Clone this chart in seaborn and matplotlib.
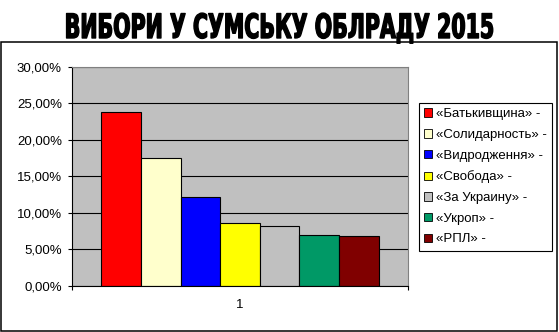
import matplotlib
matplotlib.use("Agg")
import matplotlib.pyplot as plt
import seaborn as sns
import pandas as pd
from matplotlib.patches import Patch, Rectangle
from matplotlib.ticker import FuncFormatter, FixedLocator
from matplotlib import patheffects
from matplotlib.transforms import Affine2D

# ---- data ----
title = "ВИБОРИ У СУМСЬКУ ОБЛРАДУ 2015"
parties = ["Батькивщина", "Солидарность", "Видродження", "Свобода",
           "За Украину", "Укроп", "РПЛ"]
values = [23.85, 17.55, 12.23, 8.55, 8.27, 6.91, 6.82]
colors = ["#FF0000", "#FFFFCC", "#0000FF", "#FFFF00",
          "#C0C0C0", "#009966", "#800000"]
category = ["1"]
yticks = [0, 5, 10, 15, 20, 25, 30]
legend_labels = [f"«{p}» -" for p in parties]

W, H = 559, 332
sns.set_style("white")
plt.rcParams['font.family'] = ['Liberation Sans', 'DejaVu Sans']
plt.rcParams['text.color'] = 'black'
plt.rcParams['xtick.color'] = 'black'
plt.rcParams['ytick.color'] = 'black'

fig = plt.figure(figsize=(W / 100, H / 100), dpi=100)
fig.patch.set_facecolor("white")
ax = fig.add_axes([72 / W, 46 / H, 336 / W, 219.3 / H])

df = pd.DataFrame({"cat": category * len(parties), "party": parties, "value": values})
sns.barplot(data=df, x="cat", y="value", hue="party", hue_order=parties,
            palette=colors, saturation=1, width=0.825, edgecolor="black",
            linewidth=0.8, legend=False, ax=ax, errorbar=None)

ax.set_xlim(-0.5, 0.5)
ax.set_ylim(0, 30)
ax.set_facecolor("#C0C0C0")
ax.yaxis.set_major_locator(FixedLocator(yticks))
ax.yaxis.set_major_formatter(FuncFormatter(lambda v, _: f"{v:.2f}".replace(".", ",") + "%"))
ax.yaxis.grid(True, color="black", linewidth=0.8)
ax.xaxis.grid(False)
ax.set_axisbelow(True)
ax.set_xlabel("")
ax.set_ylabel("")

for s in ["left", "bottom"]:
    ax.spines[s].set_color("black")
    ax.spines[s].set_linewidth(0.8)
for s in ["top", "right"]:
    ax.spines[s].set_color("#808080")
    ax.spines[s].set_linewidth(0.8)

ax.tick_params(axis="y", direction="out", length=3, width=0.8, color="black",
               labelcolor="black", pad=4.3, labelsize=9.5, left=True)
ax.set_xticks([0])
ax.set_xticklabels(["1"])
ax.tick_params(axis="x", which="major", length=0, pad=9.5, labelsize=9.5,
               labelcolor="black")
ax.set_xticks([-0.5, 0.5], minor=True)
ax.tick_params(axis="x", which="minor", direction="out", length=3, width=0.8,
               color="black", bottom=True)

handles = [Patch(facecolor=c, edgecolor="black", linewidth=0.6) for c in colors]
leg = fig.legend(handles, legend_labels, loc="upper left",
                 bbox_to_anchor=(419 / W, 1 - 103 / H), bbox_transform=fig.transFigure,
                 frameon=True, fancybox=False, edgecolor="black", framealpha=1,
                 fontsize=9.5, handlelength=0.6, handleheight=0.6, handletextpad=0.3,
                 labelspacing=0.66, borderpad=0.4, borderaxespad=0)
leg.get_frame().set_linewidth(0.8)
for txt in leg.get_texts():
    txt.set_color("black")

fig.add_artist(Rectangle((1.5 / W, 1.5 / H), 555.5 / W, 289 / H,
                         transform=fig.transFigure, fill=False,
                         edgecolor="black", linewidth=1.1))


class Stretch(patheffects.AbstractPathEffect):
    def __init__(self, sy, y0, lw):
        super().__init__()
        self.sy, self.y0, self.lw = sy, y0, lw

    def draw_path(self, renderer, gc, tpath, affine, rgbFace=None):
        t = affine + Affine2D().translate(0, -self.y0).scale(1, self.sy).translate(0, self.y0)
        gc0 = renderer.new_gc()
        gc0.copy_properties(gc)
        gc0.set_linewidth(self.lw)
        gc0.set_foreground("black")
        renderer.draw_path(gc0, tpath, t, rgbFace)
        gc0.restore()


base_y = H - 38
fs = 20
t = fig.text(278.5 / W, base_y / H, title, ha="center", va="baseline",
             fontsize=fs, fontweight="bold", family="DejaVu Sans",
             fontstretch="condensed", color="black")
fig.canvas.draw()
bw = t.get_window_extent().width
fs = fs * 429 / bw
t.set_fontsize(fs)
cap_px = 0.729 * fs * 100 / 72
t.set_path_effects([Stretch(24.5 / cap_px, base_y, 1.0)])

fig.savefig("out.png", dpi=100)
